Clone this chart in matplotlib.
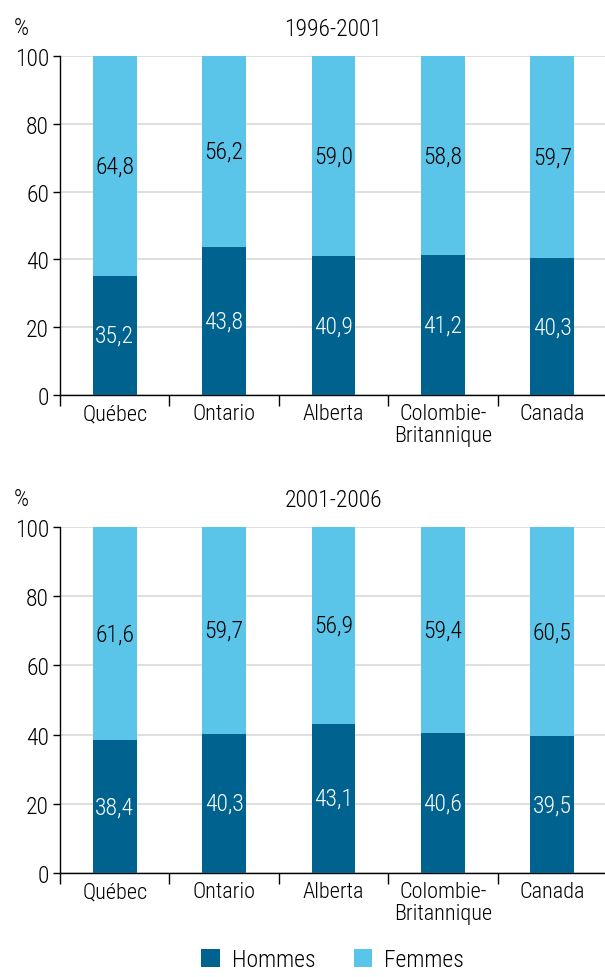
import matplotlib
matplotlib.use("Agg")
import matplotlib.pyplot as plt
from matplotlib import font_manager
import numpy as np

# condensed face if there is one, else plain Liberation Sans
names = set(f.name for f in font_manager.fontManager.ttflist)
fams = [n for n in ['Roboto Condensed', 'Liberation Sans Narrow', 'Open Sans Condensed',
                    'Noto Sans Condensed', 'Liberation Sans'] if n in names]
plt.rcParams['font.family'] = fams + ['DejaVu Sans']
plt.rcParams['font.weight'] = 'light'

categories = ['Québec', 'Ontario', 'Alberta', 'Colombie-\nBritannique', 'Canada']
periods = ['1996-2001', '2001-2006']
hommes = [[35.2, 43.8, 40.9, 41.2, 40.3],
          [38.4, 40.3, 43.1, 40.6, 39.5]]
femmes = [[64.8, 56.2, 59.0, 58.8, 59.7],
          [61.6, 59.7, 56.9, 59.4, 60.5]]
yticks = [0, 20, 40, 60, 80, 100]

dark = '#00638F'
light = '#5BC5E9'

def fmt(v):
    return f'{v:.1f}'.replace('.', ',')

fig = plt.figure(figsize=(6.05, 9.78), dpi=100)
boxes = [[0.0992, 0.5951, 0.904, 0.3466], [0.0992, 0.1063, 0.904, 0.3538]]

x = np.arange(len(categories))
for i, box in enumerate(boxes):
    ax = fig.add_axes(box)
    b1 = ax.bar(x, hommes[i], width=0.4, color=dark, label='Hommes', zorder=3)
    b2 = ax.bar(x, femmes[i], width=0.4, bottom=hommes[i], color=light, label='Femmes', zorder=3)
    ax.bar_label(b1, labels=[fmt(v) for v in hommes[i]], label_type='center', color='white', fontsize=17)
    ax.bar_label(b2, labels=[fmt(v) for v in femmes[i]], label_type='center', color='black', fontsize=17)
    ax.set_xlim(-0.5, len(categories) - 0.5)
    ax.set_ylim(0, 100)
    ax.set_yticks(yticks)
    ax.tick_params(axis='y', labelsize=17, length=5, width=1, pad=3)
    ax.yaxis.grid(True, color='#D9D9D9', linewidth=1.2, zorder=0)
    ax.set_axisbelow(True)
    ax.set_xticks(np.arange(len(categories) + 1) - 0.5)
    ax.set_xticklabels([])
    ax.tick_params(axis='x', which='major', length=8, width=1, direction='out')
    ax.set_xticks(x, minor=True)
    ax.set_xticklabels(categories, minor=True, fontsize=16, linespacing=1.05)
    ax.tick_params(axis='x', which='minor', length=0, pad=6)
    for s in ['top', 'right']:
        ax.spines[s].set_visible(False)
    for s in ['left', 'bottom']:
        ax.spines[s].set_color('black')
        ax.spines[s].set_linewidth(1)
    ax.set_title(periods[i], fontsize=17, fontweight='light', pad=15)
    ax.text(-0.07, 1.05, '%', transform=ax.transAxes, fontsize=17, ha='center', va='bottom')
    if i == 1:
        h, l = ax.get_legend_handles_labels()
        fig.legend(h, l, loc='lower center', bbox_to_anchor=(0.55, -0.016), ncol=2, frameon=False,
                   fontsize=17, handlelength=0.8, handleheight=0.8, columnspacing=1.6, handletextpad=0.5)

fig.savefig('out.png', dpi=100)
